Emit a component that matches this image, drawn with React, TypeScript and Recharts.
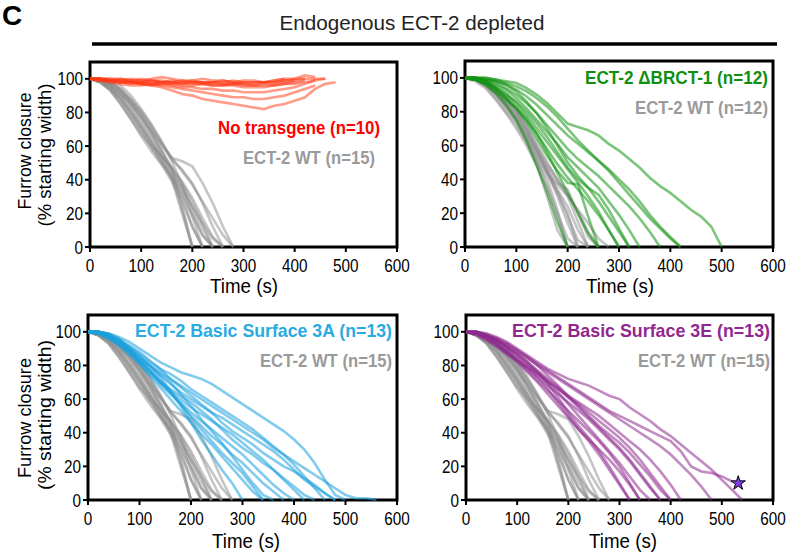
import { ComposedChart, Line, Scatter, XAxis, YAxis, ReferenceArea } from 'recharts';

// Furrow closure traces, one value every 20 s starting at t = 0 (values in % starting width)
const timeTicks = [0, 100, 200, 300, 400, 500, 600];
const closureTicks = [0, 20, 40, 60, 80, 100];
const timeGrid = [0, 20, 40, 60, 80, 100, 120, 140, 160, 180, 200, 220, 240, 260, 280, 300, 320, 340, 360, 380, 400, 420, 440, 460, 480, 500, 520, 540, 560, 580, 600];

// ECT-2 WT (n=15), shared by panels 1, 3, 4
const wtTraces = [
  [100, 98, 93, 85, 76, 67, 60, 54, 47, 25, 0],
  [100, 99, 96, 90, 82, 73, 63, 52, 40, 20, 0],
  [100, 100, 97, 92, 85, 77, 67, 56, 43, 22, 0],
  [100, 99, 95, 89, 81, 72, 62, 52, 42, 30, 12, 0],
  [100, 100, 98, 94, 87, 79, 69, 58, 46, 34, 18, 0],
  [100, 99, 96, 91, 84, 75, 65, 54, 45, 36, 24, 11, 0],
  [100, 100, 98, 93, 86, 78, 68, 57, 47, 38, 27, 14, 0],
  [100, 98, 94, 88, 80, 71, 62, 54, 47, 39, 29, 17, 6, 0],
  [100, 99, 97, 93, 87, 80, 71, 61, 52, 46, 38, 26, 12, 0],
  [100, 100, 98, 94, 88, 81, 72, 62, 53, 51, 48, 38, 26, 12, 0],
  [100, 99, 96, 91, 85, 77, 69, 61, 53, 45, 37, 27, 17, 7, 0],
  [100, 98, 93, 85, 76, 66, 57, 49, 39, 27, 12, 0],
  [100, 99, 95, 88, 79, 70, 60, 50, 41, 31, 19, 7, 0],
  [100, 100, 99, 96, 90, 82, 73, 63, 51, 37, 21, 7, 0],
  [100, 98, 94, 87, 78, 69, 59, 50, 42, 34, 24, 14, 5, 0],
];

// ECT-2 WT (n=12), panel 2
const wtTracesB = [
  [100, 99, 96, 90, 82, 74, 62, 48, 30, 10, 0],
  [100, 100, 97, 91, 84, 76, 65, 52, 36, 18, 0],
  [100, 99, 95, 88, 80, 72, 62, 51, 40, 22, 0],
  [100, 100, 98, 93, 86, 79, 69, 57, 44, 30, 14, 0],
  [100, 99, 97, 92, 85, 77, 67, 56, 45, 33, 20, 0],
  [100, 100, 98, 94, 88, 81, 71, 59, 46, 34, 24, 10, 0],
  [100, 99, 96, 90, 83, 75, 64, 53, 43, 37, 30, 15, 0],
  [100, 100, 97, 92, 86, 78, 68, 57, 47, 38, 34, 20, 6, 0],
  [100, 99, 97, 93, 87, 80, 70, 59, 49, 40, 31, 21, 9, 0],
  [100, 100, 98, 94, 88, 81, 72, 61, 50, 40, 30, 22, 14, 5, 0],
  [100, 98, 94, 87, 79, 70, 60, 48, 35, 20, 5, 0],
  [100, 99, 96, 91, 84, 76, 66, 55, 44, 32, 18, 4, 0],
];

// No transgene (n=10)
const noTransgeneTraces = [
  [100, 100, 99, 98, 98, 97, 96, 95, 93, 91, 90, 88, 87, 86, 85, 84, 83, 82, 84, 85, 87, 89, 94, 97, 98],
  [100, 100, 99, 99, 98, 98, 97, 96, 95, 94, 93, 92, 91, 90, 89, 89, 88, 88, 89, 90, 92, 94, 96],
  [100, 99, 99, 98, 98, 97, 97, 97, 96, 95, 95, 94, 94, 93, 93, 92, 92, 92, 93, 94, 95, 97, 99, 100],
  [100, 100, 100, 99, 99, 99, 98, 98, 98, 97, 97, 97, 96, 96, 96, 95, 95, 95, 96, 97, 98, 99],
  [100, 100, 99, 100, 99, 98, 99, 98, 99, 98, 99, 98, 98, 98, 99, 98, 98, 98, 99, 100, 100, 102, 101],
  [100, 99, 98, 98, 97, 98, 99, 98, 97, 98, 98, 97, 98, 99, 98, 97, 97, 98, 98, 99, 99, 100, 100, 100],
  [100, 100, 99, 99, 100, 99, 100, 101, 100, 99, 99, 100, 99, 99, 98, 99, 99, 98, 98, 99, 100, 100],
  [100, 99, 99, 98, 98, 97, 96, 97, 97, 96, 96, 97, 96, 96, 97, 96, 96, 97, 97, 98, 99],
  [100, 100, 100, 100, 99, 100, 99, 99, 98, 99, 98, 98, 97, 97, 97, 97, 96, 96, 96, 97, 97, 98, 99],
  [100, 99, 98, 97, 96, 96, 97, 98, 98, 97, 98, 98, 98, 97, 97, 98, 98, 98, 99, 100],
];

// ECT-2 ΔBRCT-1 (n=12)
const brctTraces = [
  [100, 100, 100, 99, 98, 97, 94, 90, 85, 79, 73, 71, 69, 66, 61, 57, 52, 47, 41, 36, 32, 27, 22, 18, 12, 0],
  [100, 100, 99, 98, 96, 93, 89, 84, 78, 72, 66, 61, 56, 51, 46, 40, 34, 27, 19, 12, 6, 0],
  [100, 100, 100, 99, 97, 95, 92, 88, 83, 77, 70, 63, 57, 51, 45, 38, 31, 24, 17, 11, 5, 0],
  [100, 100, 99, 97, 94, 90, 85, 79, 72, 65, 58, 52, 47, 42, 36, 30, 24, 17, 9, 0],
  [100, 99, 98, 96, 93, 88, 82, 75, 68, 61, 53, 47, 41, 35, 27, 19, 10, 0],
  [100, 100, 99, 98, 96, 92, 86, 79, 70, 60, 50, 42, 35, 27, 18, 9, 0],
  [100, 99, 97, 94, 90, 86, 80, 73, 65, 56, 47, 40, 35, 31, 22, 11, 0],
  [100, 99, 96, 92, 87, 82, 75, 67, 58, 49, 41, 34, 27, 19, 10, 0],
  [100, 100, 98, 95, 91, 85, 78, 70, 62, 54, 46, 38, 30, 21, 10, 0],
  [100, 99, 97, 93, 88, 82, 74, 64, 54, 45, 38, 37, 18, 0],
  [100, 99, 96, 91, 84, 75, 63, 48, 32, 15, 0],
  [100, 100, 98, 94, 89, 83, 76, 67, 56, 44, 32, 20, 8, 0],
];

// ECT-2 Basic Surface 3A (n=13)
const surface3ATraces = [
  [100, 100, 99, 97, 94, 90, 86, 82, 79, 76, 74, 72, 69, 65, 61, 57, 53, 49, 45, 41, 36, 30, 22, 12, 3, 0],
  [100, 100, 98, 95, 91, 87, 82, 78, 75, 71, 66, 62, 58, 54, 50, 46, 42, 37, 32, 27, 21, 14, 7, 0],
  [100, 99, 97, 94, 90, 85, 80, 76, 72, 68, 64, 60, 56, 52, 48, 44, 40, 36, 31, 27, 23, 19, 15, 11, 7, 3, 1, 1, 0],
  [100, 100, 98, 94, 89, 84, 79, 74, 69, 64, 60, 56, 52, 49, 45, 41, 37, 33, 29, 24, 18, 12, 8, 4, 0],
  [100, 99, 97, 93, 88, 82, 76, 70, 65, 60, 55, 51, 47, 43, 39, 34, 29, 24, 18, 12, 6, 0],
  [100, 100, 98, 95, 90, 84, 77, 71, 66, 62, 58, 53, 48, 42, 36, 31, 27, 22, 18, 13, 8, 3, 0],
  [100, 99, 96, 92, 87, 81, 75, 69, 63, 58, 52, 47, 42, 37, 32, 27, 21, 15, 9, 4, 0],
  [100, 99, 97, 93, 88, 83, 77, 70, 64, 57, 50, 44, 38, 33, 27, 22, 16, 10, 5, 0],
  [100, 100, 98, 95, 91, 86, 80, 73, 65, 57, 49, 42, 35, 28, 22, 16, 8, 0],
  [100, 99, 96, 92, 87, 81, 74, 67, 60, 53, 46, 39, 33, 26, 19, 12, 5, 0],
  [100, 100, 98, 94, 89, 83, 77, 71, 64, 56, 46, 36, 27, 18, 10, 0],
  [100, 99, 97, 94, 90, 85, 80, 75, 70, 63, 56, 48, 41, 34, 26, 18, 10, 3, 0],
  [100, 100, 99, 96, 92, 88, 83, 78, 72, 67, 62, 57, 52, 46, 41, 37, 33, 28, 24, 20, 17, 13, 9, 4, 0],
];

// ECT-2 Basic Surface 3E (n=13)
const surface3ETraces = [
  [100, 100, 99, 97, 94, 90, 86, 82, 78, 75, 72, 70, 68, 65, 62, 60, 55, 51, 47, 42, 38, 33, 28, 23, 18, 12, 6, 0],
  [100, 99, 98, 96, 93, 89, 85, 81, 77, 73, 69, 65, 61, 57, 53, 50, 47, 44, 41, 38, 35, 29, 20, 17, 16, 14, 11],
  [100, 99, 97, 95, 92, 88, 84, 80, 76, 72, 68, 64, 60, 56, 52, 48, 44, 40, 36, 32, 27, 21, 15, 8, 0],
  [100, 100, 98, 95, 91, 86, 81, 76, 71, 66, 62, 58, 54, 50, 45, 40, 35, 30, 24, 17, 9, 0],
  [100, 99, 97, 94, 90, 85, 80, 75, 70, 66, 61, 57, 52, 47, 42, 37, 31, 24, 16, 8, 0],
  [100, 100, 98, 95, 91, 87, 82, 77, 72, 67, 61, 55, 49, 43, 37, 31, 24, 16, 8, 0],
  [100, 99, 96, 92, 88, 83, 78, 73, 68, 63, 58, 53, 48, 42, 36, 30, 23, 15, 7, 0],
  [100, 99, 97, 93, 88, 83, 77, 71, 65, 59, 53, 47, 41, 35, 28, 20, 10, 0],
  [100, 100, 97, 93, 89, 84, 79, 73, 66, 58, 50, 42, 36, 30, 24, 17, 9, 0],
  [100, 99, 96, 92, 87, 82, 76, 70, 63, 56, 49, 42, 35, 27, 18, 9, 0],
  [100, 98, 95, 91, 87, 83, 79, 75, 70, 64, 57, 50, 43, 36, 29, 22, 14, 6, 0],
  [100, 100, 98, 95, 91, 87, 82, 76, 69, 61, 52, 44, 37, 29, 20, 10, 0],
  [100, 99, 98, 96, 93, 89, 85, 80, 74, 68, 62, 56, 50, 44, 39, 34, 28, 21, 14, 6, 0],
];

const starPoint = [{ t: 532, v: 10 }];

const SANS = "'Liberation Sans', Arial, Helvetica, sans-serif";
const GRAY = '#8c8c8c';

type Group = { key: string; traces: number[][]; color: string; opacity: number };

function buildRows(groups: Group[]) {
  return timeGrid.map((t, i) => {
    const row: Record<string, number> = { t };
    groups.forEach(g =>
      g.traces.forEach((tr, j) => {
        if (i < tr.length) row[`${g.key}${j}`] = tr[i];
      })
    );
    return row;
  });
}

const XTick = (p: any) => (
  <g transform={`translate(${p.x},${p.y})`}>
    <text transform="scale(0.85,1)" textAnchor="middle" dy={18} fontSize={18} fill="#000" fontFamily={SANS}>
      {p.payload.value}
    </text>
  </g>
);

const YTick = (p: any) => (
  <g transform={`translate(${p.x},${p.y})`}>
    <text transform="scale(0.85,1)" textAnchor="end" dy={6.5} fontSize={18} fill="#000" fontFamily={SANS}>
      {p.payload.value}
    </text>
  </g>
);

interface PanelProps {
  left: number;
  top: number;
  width: number;
  height: number;
  margin: { top: number; right: number; bottom: number; left: number };
  yWidth: number;
  plotH: number;
  groups: Group[];
  star?: boolean;
}

function Panel({ left, top, width, height, margin, yWidth, plotH, groups, star }: PanelProps) {
  const rows = buildRows(groups);
  return (
    <div style={{ position: 'absolute', left, top, width, height }}>
      <ComposedChart width={width} height={height} data={rows} margin={margin}>
        <XAxis
          type="number"
          dataKey="t"
          domain={[0, 600]}
          ticks={timeTicks}
          interval={0}
          height={height - margin.top - margin.bottom - plotH}
          tick={(p: any) => <XTick {...p} />}
          tickSize={5}
          tickMargin={2}
          tickLine={{ stroke: '#000', strokeWidth: 2 }}
          axisLine={false}
        />
        <YAxis
          type="number"
          domain={[0, 110]}
          ticks={closureTicks}
          interval={0}
          width={yWidth}
          tick={(p: any) => <YTick {...p} />}
          tickSize={5}
          tickMargin={2}
          tickLine={{ stroke: '#000', strokeWidth: 2 }}
          axisLine={false}
        />
        <ReferenceArea x1={0} x2={600} y1={0} y2={110} fill="none" stroke="#000" strokeWidth={3} ifOverflow="visible" />
        {groups.map(g =>
          g.traces.map((_, j) => (
            <Line
              key={`${g.key}${j}`}
              dataKey={`${g.key}${j}`}
              type="linear"
              stroke={g.color}
              strokeOpacity={g.opacity}
              strokeWidth={2.6}
              dot={false}
              activeDot={false}
              isAnimationActive={false}
            />
          ))
        )}
        {star && (
          <Scatter data={starPoint} dataKey="v" shape="star" fill="#7b3fe0" stroke="#000" strokeWidth={1} isAnimationActive={false} />
        )}
      </ComposedChart>
    </div>
  );
}

const legend = (x: number, y: number, len: number, color: string, label: string) => (
  <text x={x} y={y} textAnchor="end" fontSize={19} fontWeight="bold" fill={color} fontFamily={SANS} textLength={len} lengthAdjust="spacingAndGlyphs">
    {label}
  </text>
);

export default function App() {
  return (
    <div style={{ position: 'absolute', left: 0, top: 0, width: 789, height: 557, background: '#fff', overflow: 'hidden' }}>
      <Panel
        left={0} top={40} width={415} height={262}
        margin={{ top: 22, right: 18, bottom: 0, left: 0 }}
        yWidth={90} plotH={185}
        groups={[
          { key: 'w', traces: wtTraces, color: GRAY, opacity: 0.5 },
          { key: 'r', traces: noTransgeneTraces, color: '#ff3814', opacity: 0.5 },
        ]}
      />
      <Panel
        left={375} top={40} width={414} height={262}
        margin={{ top: 21, right: 16, bottom: 0, left: 0 }}
        yWidth={90} plotH={186}
        groups={[
          { key: 'w', traces: wtTracesB, color: GRAY, opacity: 0.5 },
          { key: 'g', traces: brctTraces, color: '#139413', opacity: 0.55 },
        ]}
      />
      <Panel
        left={0} top={295} width={415} height={262}
        margin={{ top: 20, right: 18, bottom: 0, left: 0 }}
        yWidth={88} plotH={185}
        groups={[
          { key: 'w', traces: wtTraces, color: GRAY, opacity: 0.5 },
          { key: 'c', traces: surface3ATraces, color: '#1ba1dc', opacity: 0.55 },
        ]}
      />
      <Panel
        left={376} top={295} width={413} height={262}
        margin={{ top: 20, right: 16, bottom: 0, left: 0 }}
        yWidth={90} plotH={185}
        groups={[
          { key: 'w', traces: wtTraces, color: GRAY, opacity: 0.5 },
          { key: 'p', traces: surface3ETraces, color: '#8e2a8e', opacity: 0.55 },
        ]}
        star
      />
      <svg width={789} height={557} style={{ position: 'absolute', left: 0, top: 0, pointerEvents: 'none' }}>
        <text x={2} y={25} fontSize={28} fontWeight="bold" fontFamily={SANS} fill="#000">C</text>
        <text x={412} y={30} textAnchor="middle" fontSize={21} fontFamily={SANS} fill="#222" textLength={265} lengthAdjust="spacingAndGlyphs">
          Endogenous ECT-2 depleted
        </text>
        <line x1={92} x2={777} y1={44} y2={44} stroke="#000" strokeWidth={3.5} />

        <g fontFamily={SANS} fontSize={19} fill="#000">
          <text transform="translate(31,151) rotate(-90)" textAnchor="middle" textLength={117} lengthAdjust="spacingAndGlyphs">Furrow closure</text>
          <text transform="translate(51,155) rotate(-90)" textAnchor="middle" textLength={143} lengthAdjust="spacingAndGlyphs">(% starting width)</text>
          <text transform="translate(31,418) rotate(-90)" textAnchor="middle" textLength={120} lengthAdjust="spacingAndGlyphs">Furrow closure</text>
          <text transform="translate(51,415) rotate(-90)" textAnchor="middle" textLength={150} lengthAdjust="spacingAndGlyphs">(% starting width)</text>
          <text x={244} y={293} textAnchor="middle" fontSize={20} textLength={68} lengthAdjust="spacingAndGlyphs">Time (s)</text>
          <text x={620} y={293} textAnchor="middle" fontSize={20} textLength={68} lengthAdjust="spacingAndGlyphs">Time (s)</text>
          <text x={246} y={548} textAnchor="middle" fontSize={20} textLength={68} lengthAdjust="spacingAndGlyphs">Time (s)</text>
          <text x={623} y={548} textAnchor="middle" fontSize={20} textLength={68} lengthAdjust="spacingAndGlyphs">Time (s)</text>
        </g>

        {legend(380, 134, 162, '#ff0000', 'No transgene (n=10)')}
        {legend(375, 164, 132, '#9a9a9a', 'ECT-2 WT (n=15)')}
        {legend(768, 84, 183, '#0f8f0f', 'ECT-2 \u0394BRCT-1  (n=12)')}
        {legend(768, 114, 133, '#9a9a9a', 'ECT-2 WT (n=12)')}
        {legend(392, 337, 257, '#29abe2', 'ECT-2 Basic Surface 3A (n=13)')}
        {legend(392, 367, 132, '#9a9a9a', 'ECT-2 WT (n=15)')}
        {legend(770, 337, 258, '#92278f', 'ECT-2 Basic Surface 3E (n=13)')}
        {legend(770, 367, 132, '#9a9a9a', 'ECT-2 WT (n=15)')}
      </svg>
    </div>
  );
}
